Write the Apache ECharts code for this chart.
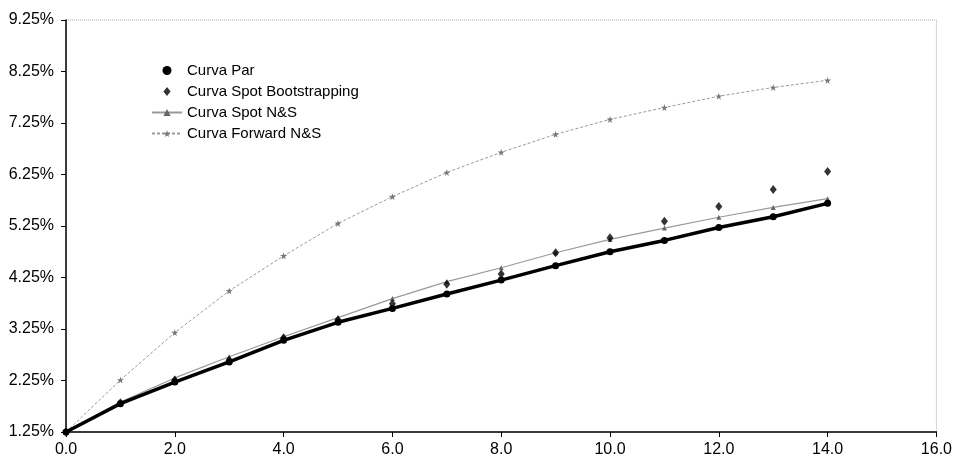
<!DOCTYPE html>
<html>
<head>
<meta charset="utf-8">
<script src="https://cdn.jsdelivr.net/npm/echarts@6/dist/echarts.min.js"></script>
<style>
  html, body { margin: 0; padding: 0; background: #fff; }
  #chart { width: 955px; height: 467px; }
</style>
</head>
<body>
<div id="chart"></div>
<script>
// plazo en años
const plazos = [0, 1, 2, 3, 4, 5, 6, 7, 8, 9, 10, 11, 12, 13, 14]
const curvaPar = [1.25, 1.80, 2.22, 2.61, 3.03, 3.38, 3.65, 3.93, 4.20, 4.48, 4.75, 4.97, 5.22, 5.43, 5.69]
const spotBootstrapping = [1.25, 1.82, 2.26, 2.65, 3.08, 3.43, 3.74, 4.12, 4.32, 4.73, 5.02, 5.34, 5.63, 5.96, 6.31]
const spotNS = [1.25, 1.83, 2.30, 2.71, 3.10, 3.47, 3.84, 4.17, 4.44, 4.73, 4.99, 5.21, 5.42, 5.61, 5.78]
const forwardNS = [1.25, 2.26, 3.18, 3.99, 4.67, 5.30, 5.82, 6.29, 6.68, 7.03, 7.32, 7.55, 7.77, 7.94, 8.08]
const yTicks = [1.25, 2.25, 3.25, 4.25, 5.25, 6.25, 7.25, 8.25, 9.25]

const star = 'path://M50,0 L61,35 L98,35 L68,57 L79,91 L50,70 L21,91 L32,57 L2,35 L39,35 Z'
const rombo = 'path://M4,0 L8,5 L4,10 L0,5 Z'

function pares (vals) {
  return plazos.map((p, i) => [p, vals[i]])
}

const mychart = echarts.init(document.getElementById('chart'))
const font = 'Liberation Sans, Arial, sans-serif'

mychart.setOption({
  animation: false,
  backgroundColor: '#fff',
  textStyle: { fontFamily: font },
  grid: {
    left: 66,
    right: 17,
    top: 20,
    bottom: 35,
    show: true,
    borderColor: '#aaa',
    borderWidth: 1,
    borderType: 'dotted'
  },
  legend: {
    orient: 'vertical',
    left: 146,
    top: 58,
    itemWidth: 30,
    itemHeight: 9,
    itemGap: 6,
    symbolKeepAspect: true,
    textStyle: { color: '#000', fontSize: 15, lineHeight: 15, fontFamily: font },
    data: [
      { name: 'Curva Par', icon: 'circle' },
      { name: 'Curva Spot Bootstrapping', icon: rombo },
      { name: 'Curva Spot N&S' },
      { name: 'Curva Forward N&S' }
    ]
  },
  xAxis: {
    type: 'value',
    min: 0,
    max: 16,
    interval: 2,
    splitLine: { show: false },
    axisLine: { lineStyle: { color: '#000', width: 1.5 } },
    axisTick: { length: 5, lineStyle: { color: '#000' } },
    axisLabel: {
      color: '#000',
      fontSize: 16,
      margin: 10,
      formatter: v => v.toFixed(1)
    }
  },
  yAxis: {
    type: 'value',
    min: 1.25,
    max: 9.25,
    splitLine: { show: false },
    axisLine: { show: true, lineStyle: { color: '#000', width: 1.5 } },
    axisTick: { show: true, length: 5, customValues: yTicks, lineStyle: { color: '#000' } },
    axisLabel: {
      color: '#000',
      fontSize: 16,
      margin: 12,
      customValues: yTicks,
      formatter: v => v.toFixed(2) + '%'
    }
  },
  series: [
    {
      name: 'Curva Forward N&S',
      type: 'line',
      data: pares(forwardNS),
      symbol: star,
      symbolSize: 7,
      itemStyle: { color: '#777' },
      lineStyle: { color: '#999', width: 1, type: [3, 2] },
      z: 2
    },
    {
      name: 'Curva Spot N&S',
      type: 'line',
      data: pares(spotNS),
      symbol: 'triangle',
      symbolSize: 5,
      itemStyle: { color: '#666' },
      lineStyle: { color: '#999', width: 1.2 },
      z: 3
    },
    {
      name: 'Curva Par',
      type: 'line',
      data: pares(curvaPar),
      symbol: 'circle',
      symbolSize: 7,
      itemStyle: { color: '#000' },
      lineStyle: { color: '#000', width: 3.5 },
      z: 4
    },
    {
      name: 'Curva Spot Bootstrapping',
      type: 'scatter',
      data: pares(spotBootstrapping),
      symbol: 'diamond',
      symbolSize: [7, 9],
      itemStyle: { color: '#000' },
      z: 5
    }
  ]
})
</script>
</body>
</html>
